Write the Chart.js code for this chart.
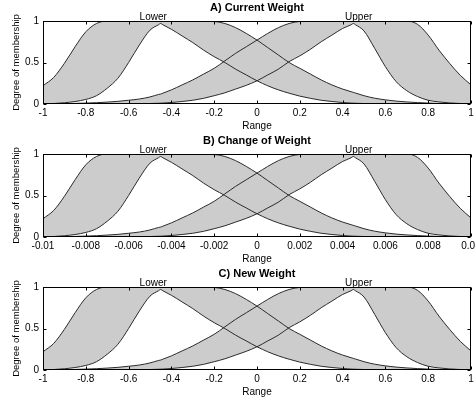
<!DOCTYPE html>
<html>
<head>
<meta charset="utf-8">
<script src="https://cdn.jsdelivr.net/npm/chart.js@4.4.1/dist/chart.umd.min.js"></script>
<style>
  html, body { margin: 0; padding: 0; background: #fff; }
  .plot { position: absolute; left: 0; width: 475px; height: 134px; }
  #plotA { top: 0; }
  #plotB { top: 133px; }
  #plotC { top: 266px; }
</style>
</head>
<body>
<div class="plot" id="plotA"><canvas id="chartA" width="475" height="134"></canvas></div>
<div class="plot" id="plotB"><canvas id="chartB" width="475" height="134"></canvas></div>
<div class="plot" id="plotC"><canvas id="chartC" width="475" height="134"></canvas></div>
<script>
// Sample positions (Range and Change of Weight axes)
const rangeX = [-1, -0.95, -0.9, -0.85, -0.8, -0.75, -0.7, -0.65, -0.6, -0.55, -0.5,
  -0.46, -0.45, -0.44, -0.4, -0.35, -0.3, -0.25, -0.2, -0.15, -0.1, -0.05, 0,
  0.05, 0.1, 0.15, 0.2, 0.25, 0.3, 0.35, 0.4, 0.44, 0.45, 0.46, 0.5,
  0.55, 0.6, 0.65, 0.7, 0.75, 0.8, 0.85, 0.9, 0.95, 1];
const changeX = [-0.01, -0.0095, -0.009, -0.0085, -0.008, -0.0075, -0.007, -0.0065, -0.006, -0.0055, -0.005,
  -0.0046, -0.0045, -0.0044, -0.004, -0.0035, -0.003, -0.0025, -0.002, -0.0015, -0.001, -0.0005, 0,
  0.0005, 0.001, 0.0015, 0.002, 0.0025, 0.003, 0.0035, 0.004, 0.0044, 0.0045, 0.0046, 0.005,
  0.0055, 0.006, 0.0065, 0.007, 0.0075, 0.008, 0.0085, 0.009, 0.0095, 0.01];

// "Lower" set: upper and lower membership functions
const lowerUpperMF = [0.22, 0.32, 0.49, 0.69, 0.87, 0.97, 1, 1, 1, 1, 1,
  1, 1, 1, 1, 1, 1, 1, 0.995, 0.97, 0.92, 0.85, 0.77,
  0.68, 0.59, 0.50, 0.43, 0.36, 0.29, 0.23, 0.18, 0.148, 0.14, 0.132, 0.10,
  0.07, 0.05, 0.035, 0.025, 0.017, 0.011, 0.007, 0.004, 0.002, 0.001];
const lowerLowerMF = [0.002, 0.006, 0.015, 0.03, 0.055, 0.10, 0.19, 0.31, 0.50, 0.71, 0.89,
  0.955, 0.97, 0.955, 0.90, 0.82, 0.74, 0.65, 0.57, 0.50, 0.42, 0.35, 0.28,
  0.22, 0.17, 0.13, 0.095, 0.068, 0.045, 0.03, 0.018, 0.011, 0.01, 0.009, 0.006,
  0.004, 0.002, 0.001, 0, 0, 0, 0, 0, 0, 0];

// "Upper" set: upper and lower membership functions
const upperUpperMF = [0.001, 0.002, 0.004, 0.007, 0.011, 0.016, 0.023, 0.032, 0.045, 0.06, 0.085,
  0.115, 0.12, 0.13, 0.17, 0.23, 0.29, 0.36, 0.43, 0.52, 0.61, 0.69, 0.77,
  0.85, 0.92, 0.97, 0.995, 1, 1, 1, 1, 1, 1, 1, 1,
  1, 1, 1, 1, 0.96, 0.83, 0.65, 0.49, 0.345, 0.23];
const upperLowerMF = [0, 0, 0, 0, 0, 0, 0, 0.001, 0.002, 0.004, 0.006,
  0.009, 0.01, 0.011, 0.018, 0.03, 0.045, 0.068, 0.10, 0.135, 0.18, 0.225, 0.28,
  0.35, 0.42, 0.51, 0.58, 0.66, 0.75, 0.83, 0.91, 0.955, 0.97, 0.955, 0.88,
  0.67, 0.45, 0.27, 0.16, 0.09, 0.045, 0.025, 0.013, 0.006, 0.002];

// Axis ticks
const rangeTicks = [-1, -0.8, -0.6, -0.4, -0.2, 0, 0.2, 0.4, 0.6, 0.8, 1];
const rangeTickLabels = ['-1', '-0.8', '-0.6', '-0.4', '-0.2', '0', '0.2', '0.4', '0.6', '0.8', '1'];
const changeTicks = [-0.01, -0.008, -0.006, -0.004, -0.002, 0, 0.002, 0.004, 0.006, 0.008, 0.01];
const changeTickLabels = ['-0.01', '-0.008', '-0.006', '-0.004', '-0.002', '0', '0.002', '0.004', '0.006', '0.008', '0.01'];
const yTicks = [0, 0.5, 1];
const yTickLabels = ['0', '0.5', '1'];

// Set names and where they sit along each axis
const setNames = ['Lower', 'Upper'];
const rangeNameX = [-0.485, 0.475];
const changeNameX = [-0.00485, 0.00475];

const FOU_GRAY = 'rgb(204, 204, 204)';
const LINE_COLOR = '#2a2a2a';

Chart.defaults.font.family = 'Arial, "Liberation Sans", sans-serif';
Chart.defaults.font.size = 10;
Chart.defaults.color = '#000';

// Draws the matlab style box, inward ticks and the set names
const matlabBox = {
  id: 'matlabBox',
  afterDatasetsDraw(chart, args, opts) {
    const { ctx, chartArea: a, scales: { x, y } } = chart;
    const left = Math.round(a.left) + 0.5;
    const right = Math.round(a.right) - 0.5;
    const top = Math.round(a.top) + 0.5;
    const bottom = Math.round(a.bottom) - 0.5;
    ctx.save();
    ctx.strokeStyle = '#000';
    ctx.lineWidth = 1;
    ctx.strokeRect(left, top, right - left, bottom - top);
    ctx.beginPath();
    x.ticks.forEach(t => {
      const px = Math.round(x.getPixelForValue(t.value)) + 0.5;
      ctx.moveTo(px, bottom); ctx.lineTo(px, bottom - 3);
      ctx.moveTo(px, top); ctx.lineTo(px, top + 3);
    });
    y.ticks.forEach(t => {
      const py = Math.round(y.getPixelForValue(t.value)) + 0.5;
      ctx.moveTo(left, py); ctx.lineTo(left + 3, py);
      ctx.moveTo(right, py); ctx.lineTo(right - 3, py);
    });
    ctx.stroke();

    ctx.fillStyle = '#000';
    ctx.font = '10px Arial, "Liberation Sans", sans-serif';
    ctx.textAlign = 'center';
    ctx.textBaseline = 'alphabetic';
    (opts.nameX || []).forEach((v, i) => {
      ctx.fillText(setNames[i], x.getPixelForValue(v), a.top - 1);
    });
    ctx.restore();
  }
};

function points(xs, ys) {
  return xs.map((x, i) => ({ x: x, y: ys[i] }));
}

function lineSet(label, xs, ys, fill) {
  return {
    label: label,
    data: points(xs, ys),
    fill: fill,
    backgroundColor: FOU_GRAY,
    borderColor: LINE_COLOR,
    borderWidth: 1,
    pointRadius: 0,
    cubicInterpolationMode: 'monotone'
  };
}

function makeChart(canvasId, title, xs, ticks, tickLabels, nameX) {
  const ctx = document.getElementById(canvasId).getContext('2d');
  return new Chart(ctx, {
    type: 'line',
    data: {
      datasets: [
        lineSet('Lower UMF', xs, lowerUpperMF, '+1'),
        lineSet('Lower LMF', xs, lowerLowerMF, false),
        lineSet('Upper UMF', xs, upperUpperMF, '+1'),
        lineSet('Upper LMF', xs, upperLowerMF, false)
      ]
    },
    options: {
      responsive: false,
      animation: false,
      layout: { padding: { left: 0, right: 4, top: 0, bottom: 0 } },
      plugins: {
        legend: { display: false },
        tooltip: { enabled: false },
        filler: { drawTime: 'beforeDatasetsDraw' },
        title: {
          display: true,
          text: title,
          fullSize: false,
          color: '#000',
          font: { size: 11, weight: 'bold' },
          padding: { top: 1.7, bottom: 6.1 }
        },
        matlabBox: { nameX: nameX }
      },
      scales: {
        x: {
          type: 'linear',
          min: ticks[0],
          max: ticks[ticks.length - 1],
          grid: { display: false, drawTicks: false },
          border: { display: false },
          afterBuildTicks: axis => { axis.ticks = ticks.map(v => ({ value: v })); },
          afterFit: scale => {
            scale.height = 30;
            scale.paddingLeft = 0;
            scale.paddingRight = 0;
          },
          ticks: {
            autoSkip: false,
            maxRotation: 0,
            padding: 3,
            callback: (value, index) => tickLabels[index]
          },
          title: {
            display: true,
            text: 'Range',
            padding: { top: 0, bottom: 2 }
          }
        },
        y: {
          min: 0,
          max: 1,
          grid: { display: false, drawTicks: false },
          border: { display: false },
          afterBuildTicks: axis => { axis.ticks = yTicks.map(v => ({ value: v })); },
          afterFit: scale => {
            scale.width = 43;
            scale.paddingTop = 0;
            scale.paddingBottom = 0;
          },
          ticks: {
            padding: 4,
            callback: (value, index) => yTickLabels[index]
          },
          title: {
            display: true,
            text: 'Degree of membership',
            font: { size: 9.5 },
            padding: { top: 10.5, bottom: 0 }
          }
        }
      }
    },
    plugins: [matlabBox]
  });
}

makeChart('chartA', 'A) Current Weight', rangeX, rangeTicks, rangeTickLabels, rangeNameX);
makeChart('chartB', 'B) Change of Weight', changeX, changeTicks, changeTickLabels, changeNameX);
makeChart('chartC', 'C) New Weight', rangeX, rangeTicks, rangeTickLabels, rangeNameX);
</script>
</body>
</html>
